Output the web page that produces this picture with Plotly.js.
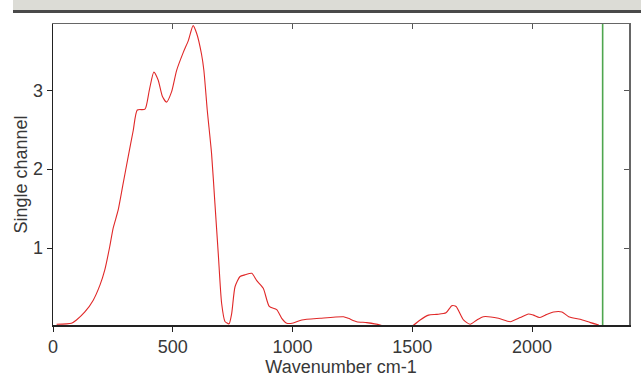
<!DOCTYPE html>
<html>
<head>
<meta charset="utf-8">
<script src="https://cdn.plot.ly/plotly-3.0.1.min.js"></script>
<style>html,body{margin:0;padding:0;background:#fff;}#chart{width:641px;height:378px;}</style>
</head>
<body>
<div id="chart"></div>
<script>
// Spectrum (Wavenumber cm-1 vs single channel intensity)
const wavenumber = [15, 77, 98, 133, 168, 196, 216, 237, 251, 272, 293, 314, 335, 352, 384, 402, 421, 439, 457, 474, 495, 516, 544, 565, 585, 600, 620, 630, 644, 662, 676, 690, 704, 718, 735, 746, 760, 781, 801, 830, 850, 878, 903, 934, 955, 976, 1003, 1039, 1115, 1213, 1233, 1268, 1310, 1366, 1400, 1450, 1480, 1506, 1533, 1568, 1603, 1641, 1665, 1683, 1714, 1742, 1770, 1797, 1860, 1909, 1951, 1985, 2006, 2031, 2055, 2090, 2125, 2153, 2201, 2244, 2279];
const singleChannel = [0.034, 0.047, 0.089, 0.19, 0.34, 0.53, 0.72, 1.02, 1.25, 1.48, 1.82, 2.16, 2.49, 2.75, 2.76, 3.0, 3.23, 3.13, 2.92, 2.85, 2.98, 3.25, 3.48, 3.63, 3.82, 3.72, 3.46, 3.25, 2.75, 2.2, 1.57, 0.93, 0.30, 0.07, 0.04, 0.17, 0.51, 0.64, 0.66, 0.68, 0.59, 0.49, 0.26, 0.22, 0.11, 0.047, 0.05, 0.089, 0.11, 0.13, 0.11, 0.067, 0.055, 0.025, -0.01, -0.02, -0.01, 0.025, 0.089, 0.15, 0.16, 0.18, 0.27, 0.26, 0.089, 0.034, 0.089, 0.13, 0.11, 0.067, 0.12, 0.165, 0.15, 0.12, 0.15, 0.19, 0.19, 0.13, 0.097, 0.055, 0.025];
const markerX = [2295, 2295];
const markerY = [-1, 5];
const xTicks = [0, 500, 1000, 1500, 2000];
const yTicks = [1, 2, 3];

const xRange = [0, 2405];
const yRange = [0.025, 3.84];

const traces = [
  {x: wavenumber, y: singleChannel, type: 'scatter', mode: 'lines',
   line: {color: '#e02828', width: 1.1, shape: 'spline', smoothing: 0.6}, hoverinfo: 'skip'},
  {x: markerX, y: markerY, type: 'scatter', mode: 'lines', xaxis: 'x2', yaxis: 'y2',
   line: {color: '#4ea64e', width: 1.6}, hoverinfo: 'skip'}
];

const tickFont = {family: 'Liberation Sans, Arial, sans-serif', size: 18, color: '#383838'};
// paper coords helpers for the window bar above the plot
const L = 53, R = 12, T = 24, B = 53, W = 641, H = 378;
const pw = W - L - R, ph = H - T - B;
const px = v => (v - L) / pw;
const py = v => (H - B - v) / ph;

const layout = {
  width: W, height: H,
  margin: {l: L, r: R, t: T, b: B},
  paper_bgcolor: '#ffffff', plot_bgcolor: '#ffffff',
  showlegend: false,
  font: tickFont,
  xaxis: {range: xRange, tickvals: xTicks, ticks: 'outside', ticklen: 5, tickcolor: '#222',
    showline: true, linecolor: '#222', linewidth: 1.5, showgrid: false, zeroline: false,
    tickfont: tickFont, title: {text: 'Wavenumber cm-1', font: tickFont, standoff: 4}},
  yaxis: {range: yRange, tickvals: yTicks, ticks: 'outside', ticklen: 5, tickcolor: '#222',
    showline: true, linecolor: '#222', linewidth: 1.5, showgrid: false, zeroline: false,
    tickfont: tickFont, title: {text: 'Single channel', font: tickFont, standoff: 0}},
  xaxis2: {range: xRange, overlaying: 'x', side: 'top', anchor: 'y2', tickvals: xTicks, ticks: 'inside', ticklen: 5,
    tickcolor: '#555', showticklabels: false, showline: true, linecolor: '#666', linewidth: 1.5,
    showgrid: false, zeroline: false},
  yaxis2: {range: yRange, overlaying: 'y', side: 'right', anchor: 'x2', tickvals: yTicks, ticks: 'inside', ticklen: 5,
    tickcolor: '#555', showticklabels: false, showline: true, linecolor: '#666', linewidth: 1.5,
    showgrid: false, zeroline: false},
  shapes: [
    {type: 'rect', xref: 'paper', yref: 'paper', x0: px(13), x1: px(641), y0: py(10), y1: py(0),
     fillcolor: '#dcdcd6', line: {width: 0}, layer: 'above'},
    {type: 'rect', xref: 'paper', yref: 'paper', x0: px(13), x1: px(641), y0: py(13), y1: py(10),
     fillcolor: '#4a4a4a', line: {width: 0}, layer: 'above'}
  ]
};

Plotly.newPlot('chart', traces, layout, {displayModeBar: false, staticPlot: true});
</script>
</body>
</html>
